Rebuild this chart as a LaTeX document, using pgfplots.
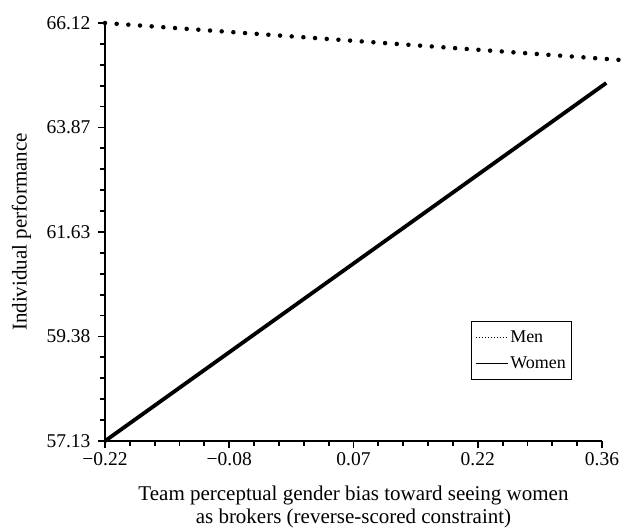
\documentclass[border=0pt]{standalone}
\usepackage{fontspec}
\setmainfont{Liberation Serif}
\usepackage{pgfplots}
\pgfplotsset{compat=1.18}
\begin{document}
\begin{tikzpicture}
\useasboundingbox (-105bp,-88bp) rectangle (524bp,441bp);
\begin{axis}[
  scale only axis,
  width=497bp, height=418bp,
  xmin=-0.22, xmax=0.36,
  ymin=57.13, ymax=66.12,
  axis lines=left,
  axis line style={-, line width=1.8bp},
  clip=false,
  xtick={-0.22,-0.075,0.07,0.215,0.36},
  xticklabels={−0.22,−0.08,0.07,0.22,0.36},
  ytick={57.13,59.3775,61.625,63.8725,66.12},
  yticklabels={57.13,59.38,61.63,63.87,66.12},
  minor tick num=4,
  tick align=outside,
  major tick length=7bp,
  minor tick length=4.5bp,
  every tick/.style={black, line width=1.8bp},
  tick label style={font=\fontsize{19.5bp}{22bp}\selectfont},
  xticklabel style={yshift=-1bp},
  yticklabel style={xshift=-4bp},
  xlabel={Team perceptual gender bias toward seeing women\\as brokers (reverse-scored constraint)},
  xlabel style={font=\fontsize{21bp}{22.5bp}\selectfont, align=center,
    at={(axis description cs:0.5,0)}, anchor=center, yshift=-66bp},
  ylabel={Individual performance},
  ylabel style={font=\fontsize{21bp}{22.5bp}\selectfont,
    at={(axis description cs:-0.168,0.5)}, anchor=center},
  legend style={at={(0.94,0.287)}, anchor=north east, draw=black, line width=0.8bp,
    font=\fontsize{18bp}{21bp}\selectfont, row sep=9bp, inner xsep=4bp, inner ysep=7bp},
  legend cell align=left,
  legend image code/.code={\draw[#1] (0bp,0bp) -- (32bp,0bp);},
]
\addlegendimage{black, dotted, line width=1bp}
\addlegendentry{Men}
\addlegendimage{black, solid, line width=1.3bp}
\addlegendentry{Women}
\addplot[forget plot, black, line width=4.5bp, line cap=round, dash pattern=on 0bp off 11.7bp] coordinates {(-0.22,66.12) (0.385,65.32)};
\addplot[forget plot, black, line width=3.8bp] coordinates {(-0.22,57.13) (0.365,64.83)};
\end{axis}
\end{tikzpicture}
\end{document}
